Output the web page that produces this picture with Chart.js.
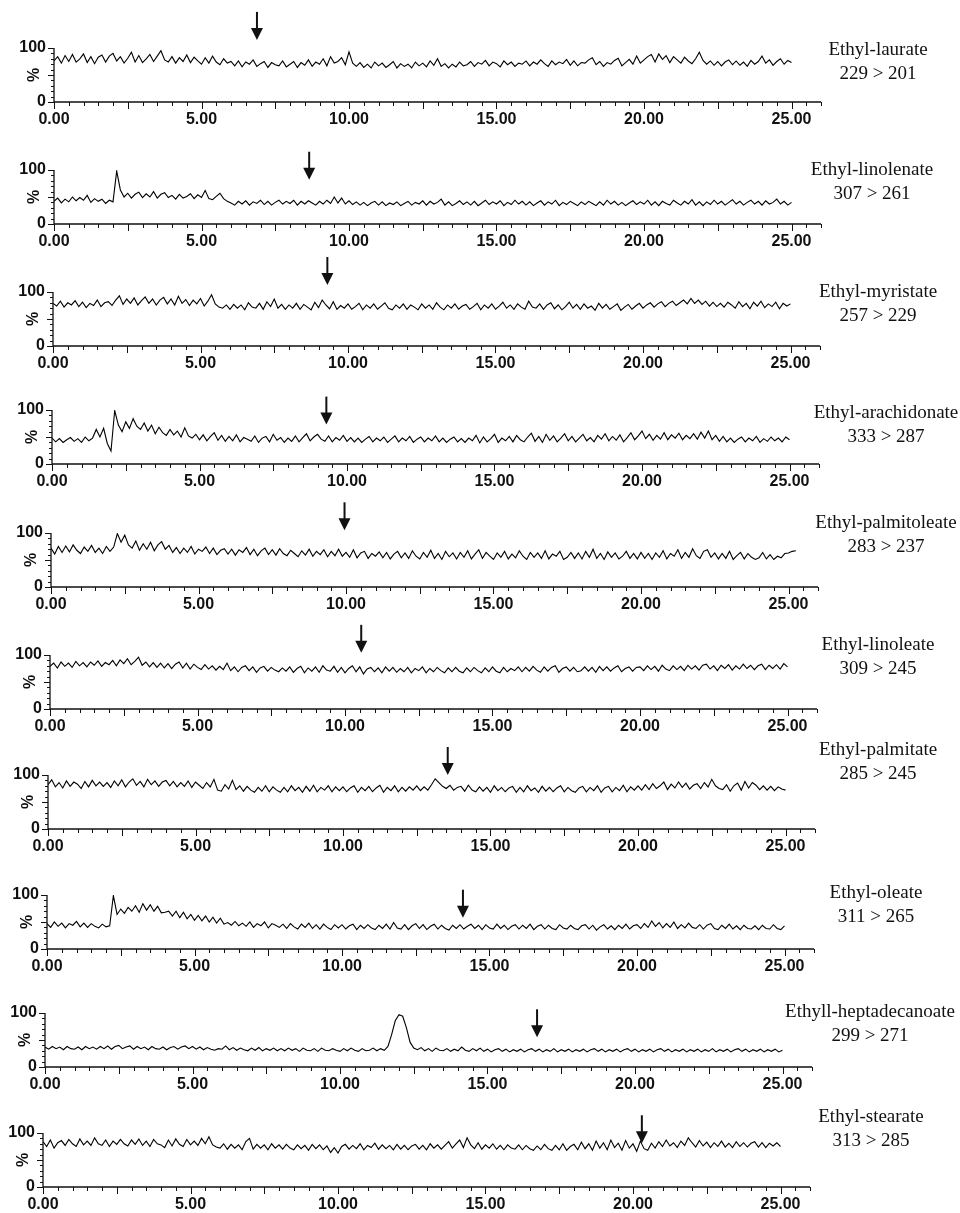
<!DOCTYPE html>
<html>
<head>
<meta charset="utf-8">
<script src="https://cdn.jsdelivr.net/npm/chart.js@4/dist/chart.umd.min.js"></script>
<style>
  body { margin: 0; background: #fff; }
  #wrap { position: relative; width: 960px; height: 1213px; overflow: hidden; }
  #wrap canvas { position: absolute; left: 0; }
</style>
</head>
<body>
<div id="wrap"></div>
<script>
// ---- data ----
const STEP = 0.125; // minutes between samples

const compounds = ['Ethyl-laurate', 'Ethyl-linolenate', 'Ethyl-myristate', 'Ethyl-arachidonate', 'Ethyl-palmitoleate',
                   'Ethyl-linoleate', 'Ethyl-palmitate', 'Ethyl-oleate', 'Ethyll-heptadecanoate', 'Ethyl-stearate'];
const transitions = ['229 > 201', '307 > 261', '257 > 229', '333 > 287', '283 > 237',
                     '309 > 245', '285 > 245', '311 > 265', '299 > 271', '313 > 285'];
const arrowTimes = [6.88, 8.65, 9.3, 9.3, 9.95, 10.55, 13.55, 14.1, 16.68, 20.3];
const arrowTips = [115, 82, 113, 73, 105, 104, 100, 58, 55, 81]; // % level where arrow head ends
const xTickLabels = [0, 5, 10, 15, 20, 25];
const yTickLabels = [0, 50, 100];

const laurate = [
  76,84,72,86,75,88,74,80,89,73,84,71,83,87,74,85,
  90,76,84,72,81,92,74,86,73,80,88,75,85,95,78,74,
  84,72,82,75,87,73,83,76,70,82,72,85,74,69,80,72,
  75,67,76,65,74,70,78,66,71,75,64,73,69,67,76,65,
  70,75,64,73,68,78,66,74,70,80,67,84,72,75,82,69,
  93,72,66,73,64,70,63,74,67,72,64,69,75,63,71,66,
  70,63,74,67,72,65,76,68,80,66,71,63,70,65,74,67,
  69,75,66,73,70,77,67,74,71,65,76,69,74,66,72,70,
  76,67,74,70,78,71,66,76,69,74,71,79,68,76,67,73,
  72,78,82,69,75,66,73,70,77,81,67,73,79,70,85,72,
  78,84,88,74,89,79,86,73,84,78,72,83,76,71,80,92,
  77,70,76,68,75,67,74,78,69,76,68,74,66,77,70,75,
  85,72,78,68,75,80,70,77,73
];
const linolenate = [
  42,48,39,46,41,50,43,49,44,53,40,47,42,46,38,44,
  41,98,63,50,57,48,55,59,49,56,50,60,48,55,58,49,
  53,46,55,48,51,56,47,54,49,62,47,45,51,57,47,42,
  39,35,42,37,43,35,41,38,44,36,42,35,40,44,37,42,
  38,44,35,42,37,43,39,35,42,37,44,38,50,39,48,37,
  43,36,41,35,40,34,39,42,35,41,34,39,36,41,34,38,
  42,35,40,37,43,35,42,37,40,46,35,41,34,38,43,36,
  41,35,42,34,39,44,36,41,37,43,34,40,36,44,37,42,
  35,41,34,39,43,35,41,37,44,34,40,36,42,38,34,41,
  36,42,38,34,41,35,44,37,42,35,40,34,39,43,36,41,
  37,44,35,41,34,42,38,35,44,39,35,42,37,45,35,41,
  34,41,36,44,37,42,35,40,45,37,42,35,40,44,37,42,
  35,43,37,40,46,37,42,35,40
];
const myristate = [
  79,74,83,72,80,76,84,73,81,71,79,75,85,73,80,82,
  75,85,93,77,87,79,89,76,84,91,79,87,76,85,90,78,
  87,76,92,79,86,75,85,78,88,74,83,95,78,72,70,76,
  68,77,70,76,67,80,72,70,79,68,82,73,87,70,77,68,
  76,70,79,68,77,72,67,81,71,85,76,69,82,68,75,70,
  78,68,73,79,67,76,70,78,68,74,80,70,67,76,70,78,
  68,76,72,67,78,70,76,68,80,72,67,76,70,78,68,74,
  77,68,73,79,67,76,70,78,68,74,81,70,76,68,78,72,
  68,83,72,70,78,68,76,80,69,76,67,73,81,70,77,68,
  78,70,74,66,79,70,77,68,73,78,66,72,77,68,74,79,
  70,76,80,72,78,82,73,79,83,75,80,85,78,88,79,85,
  77,83,74,81,73,79,72,81,76,70,82,73,79,69,81,74,
  83,71,78,73,81,69,79,74,78
];
const arachidonate = [
  48,41,47,40,45,49,42,47,40,50,43,48,64,50,66,38,
  24,99,72,60,78,66,84,70,64,76,61,72,56,68,58,53,
  64,54,61,50,67,52,48,55,45,54,43,51,58,44,53,42,
  51,43,54,41,49,46,42,52,40,48,51,41,55,44,49,40,
  48,42,52,41,49,56,43,50,55,46,42,52,41,49,44,53,
  42,49,41,48,40,46,51,41,48,43,50,40,46,52,41,48,
  43,51,40,46,50,41,48,43,52,41,48,40,46,50,41,47,
  40,48,43,53,39,50,41,47,55,40,48,43,51,41,53,45,
  41,50,57,42,51,40,55,44,52,41,48,56,43,51,41,48,
  55,43,49,41,53,46,56,43,51,44,54,41,49,58,45,52,
  61,47,55,44,53,46,58,45,54,48,57,45,53,47,56,46,
  59,48,61,45,53,42,51,41,48,40,46,50,41,48,43,51,
  40,47,42,50,43,48,41,50,45
];
const palmitoleate = [
  72,61,75,64,76,65,78,68,62,74,66,77,64,72,62,75,
  66,74,99,83,96,78,72,85,68,80,70,83,67,78,84,70,
  77,64,73,62,72,64,75,61,70,66,74,62,72,60,68,71,
  61,70,59,69,64,73,60,70,58,67,72,60,69,59,71,62,
  58,68,62,56,67,59,70,57,66,60,69,56,66,58,70,57,
  64,55,69,54,63,66,53,62,57,65,54,64,52,61,66,54,
  63,53,67,57,52,64,55,68,53,62,51,66,56,63,52,64,
  55,67,52,61,69,53,64,57,51,63,55,66,52,61,54,67,
  57,51,64,55,63,53,67,52,61,57,66,51,55,64,53,63,
  52,66,55,70,53,62,51,65,55,63,52,57,66,53,62,52,
  64,53,62,51,63,55,67,52,62,57,69,53,64,55,71,58,
  53,66,69,55,63,52,62,53,66,51,58,64,52,62,55,51,
  54,64,52,60,51,57,54,62,63,66,67
];
const linoleate = [
  79,85,76,87,79,85,77,88,80,86,78,87,81,89,79,86,
  82,90,80,91,84,93,82,88,96,81,87,78,86,77,85,76,
  84,75,83,87,76,85,74,83,77,73,82,74,80,72,79,73,
  85,71,78,69,77,80,71,78,68,76,79,70,77,72,69,76,
  70,78,68,75,79,67,76,70,78,68,80,72,70,79,68,77,
  67,75,80,69,78,65,74,77,69,76,67,78,70,77,68,75,
  69,77,67,75,71,78,67,75,69,77,71,67,76,69,77,70,
  67,76,69,77,71,67,76,69,78,70,67,77,69,75,71,78,
  69,77,70,79,72,68,78,70,77,80,68,75,78,70,77,69,
  71,78,70,77,68,79,71,78,70,76,80,69,75,78,70,77,
  78,71,80,73,79,70,81,74,71,80,73,79,71,81,74,80,
  72,81,83,74,80,71,81,75,82,72,80,74,83,75,81,73,
  80,83,73,81,75,82,74,84,78
];
const palmitate = [
  82,91,78,86,76,89,79,87,83,75,88,78,90,80,87,79,
  86,77,89,80,91,78,87,93,81,88,78,92,82,89,79,87,
  90,80,88,78,86,79,89,77,87,81,75,86,78,92,72,70,
  82,74,90,73,80,70,79,72,68,77,70,80,69,78,72,68,
  77,69,80,71,77,68,79,70,81,69,77,72,80,69,78,71,
  78,69,76,80,68,77,71,79,69,76,81,68,77,71,80,69,
  77,70,78,72,80,71,78,72,82,93,86,79,75,81,72,77,
  79,70,81,72,69,78,70,77,68,80,71,77,69,76,79,68,
  77,69,80,71,76,68,79,70,77,69,76,80,69,77,71,68,
  76,79,69,77,71,80,68,76,79,69,77,71,81,69,78,72,
  80,72,82,73,84,75,80,87,73,83,76,87,77,85,74,81,
  84,75,86,78,92,80,75,73,82,70,80,85,72,88,76,86,
  81,73,80,72,79,71,78,74,72
];
const oleate = [
  47,40,50,42,48,39,47,44,51,41,48,40,47,42,39,46,
  41,43,99,64,74,66,77,70,80,68,84,72,82,70,79,67,
  68,70,61,70,58,68,56,64,53,62,52,61,50,59,48,57,
  46,49,44,51,43,48,42,50,40,47,43,50,39,47,44,40,
  46,38,47,41,37,46,40,48,38,45,37,46,40,36,45,39,
  45,37,43,46,36,44,38,45,39,36,44,38,46,37,49,39,
  37,45,36,43,47,38,45,36,42,46,37,44,38,35,44,38,
  45,37,42,46,38,44,36,45,39,37,46,38,44,36,42,45,
  37,44,38,46,36,42,45,37,44,38,36,45,39,37,44,38,
  36,43,45,37,44,35,41,45,37,43,36,44,38,46,37,43,
  45,38,47,40,52,42,49,39,47,40,50,38,45,39,48,40,
  38,45,37,44,47,38,36,44,38,46,37,43,36,44,38,37,
  43,36,44,38,37,45,38,36,43
];
const heptadecanoate = [
  37,33,38,34,37,32,38,34,33,37,32,38,34,37,33,38,
  34,39,33,38,40,34,37,39,33,38,34,37,32,38,34,33,
  37,32,36,38,33,37,39,34,38,33,37,32,36,33,31,34,
  33,39,32,36,31,35,32,30,35,31,36,30,34,31,35,30,
  34,30,35,31,34,29,35,31,30,34,29,35,31,30,34,31,
  29,34,30,35,31,29,34,30,31,35,30,34,31,38,60,86,
  97,94,73,46,35,32,36,30,34,29,35,31,30,34,29,33,
  30,37,31,29,34,30,35,29,33,28,32,34,29,33,28,32,
  29,33,28,32,34,29,33,28,32,29,34,28,32,29,33,28,
  32,29,33,28,32,34,29,33,28,32,29,33,28,32,34,29,
  33,28,32,29,33,28,32,34,29,33,28,32,29,33,28,32,
  29,33,28,32,29,34,28,32,29,33,28,32,34,29,33,28,
  32,29,33,28,32,29,33,28,31
];
const stearate = [
  84,75,87,72,82,86,77,88,80,75,89,78,85,77,91,80,
  77,87,75,85,79,88,80,76,87,79,89,77,85,75,88,80,
  78,73,87,76,89,79,75,88,78,85,77,90,80,93,78,74,
  72,80,70,79,72,78,69,84,90,70,79,72,78,69,80,72,
  78,70,79,72,69,78,71,77,68,79,71,78,69,76,64,73,
  63,75,79,70,77,71,80,69,77,73,81,70,78,71,77,69,
  79,70,77,69,76,79,70,77,69,80,72,78,70,77,84,72,
  80,87,73,91,78,71,82,70,78,72,80,70,77,69,78,72,
  70,78,69,77,71,68,76,69,79,71,68,77,69,80,68,75,
  79,69,83,71,80,68,85,72,82,69,87,73,81,68,86,72,
  80,66,85,71,68,81,72,84,75,87,76,82,73,85,77,91,
  82,74,86,76,83,73,82,75,85,74,81,73,84,75,82,74,
  81,84,74,82,73,81,76,82,75
];
const traces = [laurate, linolenate, myristate, arachidonate, palmitoleate,
                linoleate, palmitate, oleate, heptadecanoate, stearate];

// ---- layout of the stacked panels (pixels) ----
const top100 = [48, 170, 292, 410, 533, 655, 775, 895, 1013, 1133]; // y of the 100% line
const axisX = [54, 54, 53, 52, 51, 50, 48, 47, 45, 43];              // x of the y-axis
const labelX = [878, 872, 878, 886, 886, 878, 878, 876, 870, 871];
const labelDy = [2, 0, 0, 3, -10, -10, -25, -2, -1, -16];
const PLOT_H = 54;
const PX_PER_MIN = 29.5;
const X_MAX = 26;
const ABOVE = 48, BELOW = 30;

// draws axes, ticks, arrow and compound label for one panel
const panelDecor = {
  id: 'panelDecor',
  afterDraw(chart) {
    const ctx = chart.ctx;
    const xs = chart.scales.x, ys = chart.scales.y;
    const k = chart.options.plugins.panelDecor.index;
    const x0 = xs.getPixelForValue(0);
    const y0 = ys.getPixelForValue(0);

    ctx.save();
    ctx.strokeStyle = '#111';
    ctx.fillStyle = '#111';
    ctx.lineWidth = 1.3;

    // axis lines
    ctx.beginPath();
    ctx.moveTo(x0, ys.getPixelForValue(100));
    ctx.lineTo(x0, y0);
    ctx.lineTo(xs.getPixelForValue(X_MAX), y0);
    ctx.stroke();

    // y ticks every 10 %, longer at 0 / 50 / 100
    ctx.lineWidth = 1;
    for (let v = 0; v <= 100; v += 10) {
      const y = Math.round(ys.getPixelForValue(v)) + 0.5;
      const len = yTickLabels.includes(v) ? 6 : 3;
      ctx.beginPath();
      ctx.moveTo(x0 - len, y);
      ctx.lineTo(x0, y);
      ctx.stroke();
    }

    // x ticks every 0.5 min, longer every 2.5 min
    for (let t = 0; t <= X_MAX; t += 0.5) {
      const x = Math.round(xs.getPixelForValue(t)) + 0.5;
      const len = (t % 2.5 === 0) ? 7 : 4;
      ctx.beginPath();
      ctx.moveTo(x, y0);
      ctx.lineTo(x, y0 + len);
      ctx.stroke();
    }

    // tick labels
    ctx.font = 'bold 16px "Liberation Sans", Arial, sans-serif';
    ctx.textBaseline = 'middle';
    ctx.textAlign = 'center';
    xTickLabels.forEach(t => {
      ctx.fillText(t.toFixed(2), xs.getPixelForValue(t), y0 + 18);
    });
    ctx.textAlign = 'right';
    ctx.fillText('100', x0 - 8, ys.getPixelForValue(100));
    ctx.fillText('0', x0 - 8, y0);
    ctx.save();
    ctx.translate(x0 - 19, ys.getPixelForValue(50));
    ctx.rotate(-Math.PI / 2);
    ctx.textAlign = 'center';
    ctx.fillText('%', 0, 0);
    ctx.restore();

    // retention-time arrow
    const ax = xs.getPixelForValue(arrowTimes[k]);
    const tip = ys.getPixelForValue(arrowTips[k]);
    ctx.lineWidth = 2;
    ctx.beginPath();
    ctx.moveTo(ax, tip - 28);
    ctx.lineTo(ax, tip - 10);
    ctx.stroke();
    ctx.beginPath();
    ctx.moveTo(ax - 6, tip - 12);
    ctx.lineTo(ax + 6, tip - 12);
    ctx.lineTo(ax, tip);
    ctx.closePath();
    ctx.fill();

    // compound name and MRM transition
    const ly = ys.getPixelForValue(100) + labelDy[k];
    ctx.font = '19px "Liberation Serif", "Times New Roman", serif';
    ctx.textAlign = 'center';
    ctx.fillText(compounds[k], labelX[k], ly);
    ctx.fillText(transitions[k], labelX[k], ly + 24);
    ctx.restore();
  }
};

const wrap = document.getElementById('wrap');

traces.forEach((values, k) => {
  const canvas = document.createElement('canvas');
  const h = ABOVE + PLOT_H + BELOW;
  canvas.width = 960;
  canvas.height = h;
  canvas.style.top = (top100[k] - ABOVE) + 'px';
  wrap.appendChild(canvas);

  const right = 960 - axisX[k] - X_MAX * PX_PER_MIN;

  new Chart(canvas.getContext('2d'), {
    type: 'line',
    data: {
      datasets: [{
        data: values.map((v, i) => ({ x: i * STEP, y: v })),
        borderColor: '#000',
        borderWidth: 1.1,
        pointRadius: 0,
        tension: 0,
        fill: false
      }]
    },
    options: {
      responsive: false,
      animation: false,
      devicePixelRatio: 1,
      layout: { padding: { left: axisX[k], right: right, top: ABOVE, bottom: BELOW } },
      scales: {
        x: { type: 'linear', min: 0, max: X_MAX, display: false },
        y: { min: 0, max: 100, display: false }
      },
      plugins: {
        legend: { display: false },
        tooltip: { enabled: false },
        panelDecor: { index: k }
      }
    },
    plugins: [panelDecor]
  });
});
</script>
</body>
</html>
